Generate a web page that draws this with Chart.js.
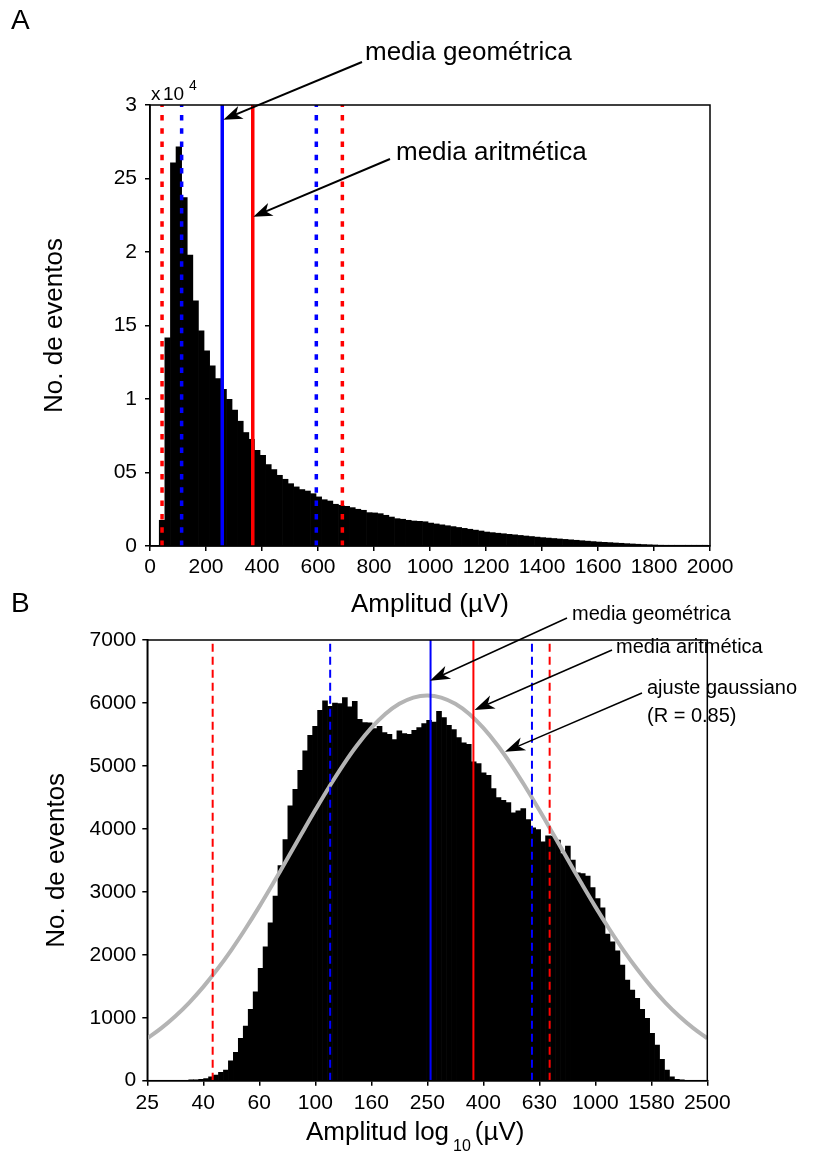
<!DOCTYPE html>
<html>
<head>
<meta charset="utf-8">
<script src="https://cdn.jsdelivr.net/npm/chart.js@4.4.1/dist/chart.umd.min.js"></script>
<style>
  html, body { margin: 0; padding: 0; background: #fff; }
  body { width: 815px; height: 1153px; position: relative; overflow: hidden; }
  canvas { position: absolute; left: 0; }
  #graficoA { top: 0; }
  #graficoB { top: 570px; }
</style>
</head>
<body>
<canvas id="graficoA" width="815" height="625"></canvas>
<canvas id="graficoB" width="815" height="583"></canvas>
<script>
// Panel A: histograma lineal, bins de 20 µV
const binInicioA = 33;
const binAnchoA = 20;
const conteosA = [
  1750, 14160, 26070, 27160, 23710, 19790, 16680, 14640, 13270, 12250,
  11390, 10660, 9980, 9240, 8490, 7720, 7260, 6510, 6170, 5540,
  5200, 4810, 4540, 4240, 4020, 3840, 3740, 3560, 3340, 3150,
  3060, 2840, 2770, 2700, 2610, 2500, 2430, 2270, 2250, 2200,
  2090, 1970, 1860, 1820, 1750, 1700, 1680, 1650, 1560, 1500,
  1440, 1380, 1320, 1260, 1200, 1140, 1080, 1020, 950, 910,
  870, 835, 795, 760, 720, 680, 645, 605, 570, 540,
  510, 480, 450, 420, 390, 360, 330, 300, 270, 250,
  230, 205, 185, 160, 140, 120, 100, 85, 70, 55,
  45, 35, 25, 20, 15, 10, 5, 3
];
const ticksXA = ['0', '200', '400', '600', '800', '1000', '1200', '1400', '1600', '1800', '2000'];
const ticksYA = ['0', '05', '1', '15', '2', '25', '3'];

// Panel B: histograma en log10(µV)
const binInicioB = 1.548;
const binAnchoB = 0.0177;
const conteosB = [
  8, 15, 22, 35, 60, 90, 132, 170, 317, 450,
  672, 868, 1132, 1413, 1783, 2127, 2508, 2931, 3418, 3831,
  4365, 4630, 4931, 5238, 5487, 5630, 5884, 6032, 5947, 6000,
  5990, 6085, 5937, 6027, 5741, 5688, 5683, 5593, 5630, 5529,
  5503, 5418, 5556, 5513, 5503, 5566, 5609, 5672, 5725, 5698,
  5868, 5767, 5645, 5577, 5450, 5365, 5344, 5064, 5037, 4889,
  4852, 4640, 4497, 4455, 4418, 4254, 4286, 4323, 4148, 4016,
  3989, 3794, 3889, 3884, 3820, 3609, 3725, 3503, 3302, 3291,
  3249, 3069, 2894, 2746, 2328, 2206, 2064, 1836, 1598, 1439,
  1307, 1132, 989, 751, 566, 339, 169, 63, 20, 8
];
const ticksXBpos = [1.4, 1.6, 1.8, 2.0, 2.2, 2.4, 2.6, 2.8, 3.0, 3.2, 3.4];
const ticksXB = ['25', '40', '60', '100', '160', '250', '400', '630', '1000', '1580', '2500'];
const ticksYB = ['0', '1000', '2000', '3000', '4000', '5000', '6000', '7000'];

const gaussLog = [
  1.40, 1.45, 1.50, 1.55, 1.60, 1.65, 1.70, 1.75, 1.80, 1.85,
  1.90, 1.95, 2.00, 2.05, 2.10, 2.15, 2.20, 2.25, 2.30, 2.35,
  2.40, 2.45, 2.50, 2.55, 2.60, 2.65, 2.70, 2.75, 2.80, 2.85,
  2.90, 2.95, 3.00, 3.05, 3.10, 3.15, 3.20, 3.25, 3.30, 3.35, 3.40
];
const gaussConteo = [
  673, 835, 1024, 1242, 1490, 1769, 2075, 2409, 2765, 3139,
  3524, 3914, 4299, 4670, 5018, 5332, 5603, 5824, 5986, 6086,
  6120, 6086, 5986, 5824, 5603, 5332, 5018, 4670, 4299, 3914,
  3524, 3139, 2765, 2409, 2075, 1769, 1490, 1242, 1024, 835, 673
];

// estadísticos (µV)
const mediaGeo = 258, geoInf = 113, geoSup = 594;
const mediaArit = 367, aritInf = 43, aritSup = 687;

const ROJO = '#ff0000';
const AZUL = '#0000ff';
const FUENTE = "'Liberation Sans', Arial, sans-serif";

Chart.defaults.font.family = FUENTE;
Chart.defaults.color = '#000';

function lineaVertical(x, yMax, color, ancho, guion) {
  return {
    type: 'line',
    data: [{ x: x, y: 0 }, { x: x, y: yMax }],
    borderColor: color,
    borderWidth: ancho,
    borderDash: guion,
    pointRadius: 0,
    fill: false,
    order: 1
  };
}

function texto(ctx, str, x, y, size) {
  ctx.save();
  ctx.font = size + 'px ' + FUENTE;
  ctx.fillStyle = '#000';
  ctx.textAlign = 'left';
  ctx.textBaseline = 'alphabetic';
  ctx.fillText(str, x, y);
  ctx.restore();
}

function flecha(ctx, x0, y0, x1, y1, largo, ancho, lw) {
  const dx = x1 - x0, dy = y1 - y0;
  const d = Math.hypot(dx, dy);
  const ux = dx / d, uy = dy / d;
  const nx = -uy, ny = ux;
  const bx = x1 - ux * largo, by = y1 - uy * largo;
  const mx = x1 - ux * largo * 0.72, my = y1 - uy * largo * 0.72;
  ctx.save();
  ctx.strokeStyle = '#000';
  ctx.fillStyle = '#000';
  ctx.lineWidth = lw;
  ctx.beginPath();
  ctx.moveTo(x0, y0);
  ctx.lineTo(mx, my);
  ctx.stroke();
  ctx.beginPath();
  ctx.moveTo(x1, y1);
  ctx.lineTo(bx + nx * ancho / 2, by + ny * ancho / 2);
  ctx.lineTo(mx, my);
  ctx.lineTo(bx - nx * ancho / 2, by - ny * ancho / 2);
  ctx.closePath();
  ctx.fill();
  ctx.restore();
}

// marco completo alrededor del área de trazado
const marco = {
  id: 'marco',
  afterDraw(chart) {
    const { ctx, chartArea: a } = chart;
    ctx.save();
    ctx.strokeStyle = '#000';
    ctx.lineWidth = 1.5;
    ctx.strokeRect(a.left, a.top, a.right - a.left, a.bottom - a.top);
    ctx.restore();
  }
};

// Anotaciones (texto + flecha hacia la línea)
const notasA = [
  { lineas: ['media geométrica'], tx: 365, ty: 60, cola: [362, 62], punta: [262, 29000] },
  { lineas: ['media aritmética'], tx: 396, ty: 160, cola: [390, 159], punta: [369, 22400] }
];
const notasB = [
  { lineas: ['media geométrica'], tx: 572, ty: 50, cola: [567, 48], punta: [2.4096, 6353] },
  { lineas: ['media aritmética'], tx: 616, ty: 83, cola: [612, 80], punta: [2.5686, 5888] },
  { lineas: ['ajuste gaussiano', '(R = 0.85)'], tx: 647, ty: 124, cola: [642, 123], punta: [2.6775, 5225] }
];

function pluginNotas(notas, tamTexto, interlinea, largo, ancho, lw, extra) {
  return {
    id: 'notas',
    afterDatasetsDraw(chart) {
      const ctx = chart.ctx;
      const sx = chart.scales.x, sy = chart.scales.y;
      notas.forEach(n => {
        const px = sx.getPixelForValue(n.punta[0]);
        const py = sy.getPixelForValue(n.punta[1]);
        flecha(ctx, n.cola[0], n.cola[1], px, py, largo, ancho, lw);
        n.lineas.forEach((l, i) => texto(ctx, l, n.tx, n.ty + i * interlinea, tamTexto));
      });
      extra(ctx, chart);
    }
  };
}

function escalaX(opts) {
  return Object.assign({
    type: 'linear',
    offset: false,
    grid: { offset: false, drawOnChartArea: false, drawTicks: true, tickLength: 5, color: '#000', lineWidth: 1.5 },
    border: { display: true, color: '#000', width: 1.5 }
  }, opts);
}

// ---------- Panel A ----------
const ctxA = document.getElementById('graficoA').getContext('2d');
new Chart(ctxA, {
  type: 'bar',
  data: {
    datasets: [
      {
        type: 'bar',
        data: conteosA.map((c, i) => ({ x: binInicioA + binAnchoA * (i + 0.5), y: c })),
        backgroundColor: '#000',
        borderWidth: 0,
        barPercentage: 1,
        categoryPercentage: 1,
        order: 3
      },
      lineaVertical(aritInf, 30000, ROJO, 3.5, [5.5, 7.8]),
      lineaVertical(geoInf, 30000, AZUL, 3.5, [5.5, 7.8]),
      lineaVertical(mediaGeo, 30000, AZUL, 3.5, []),
      lineaVertical(mediaArit, 30000, ROJO, 3.5, []),
      lineaVertical(geoSup, 30000, AZUL, 3.5, [5.5, 7.8]),
      lineaVertical(aritSup, 30000, ROJO, 3.5, [5.5, 7.8])
    ]
  },
  options: {
    responsive: false,
    animation: false,
    devicePixelRatio: 1,
    events: [],
    layout: { padding: { top: 105, right: 105, left: 0, bottom: 0 } },
    plugins: { legend: { display: false }, tooltip: { enabled: false } },
    scales: {
      x: escalaX({
        min: 0, max: 2000,
        ticks: { stepSize: 200, autoSkip: false, maxRotation: 0, padding: 4, font: { size: 21 },
                 callback: (v, i) => ticksXA[i] },
        title: { display: true, text: 'Amplitud (µV)', font: { size: 26 }, padding: { top: 0, bottom: 5 } },
        afterFit: s => { s.height = 79; }
      }),
      y: {
        min: 0, max: 30000,
        grid: { drawOnChartArea: false, drawTicks: true, tickLength: 5, color: '#000', lineWidth: 1.5 },
        border: { display: true, color: '#000', width: 1.5 },
        ticks: { stepSize: 5000, padding: 8, font: { size: 21 }, callback: (v, i) => ticksYA[i] },
        title: { display: true, text: 'No. de eventos', font: { size: 26 }, padding: { top: 39, bottom: 0 } },
        afterFit: s => { s.width = 150; }
      }
    }
  },
  plugins: [marco, pluginNotas(notasA, 26, 28, 19, 14, 2, (ctx) => {
    texto(ctx, 'A', 11, 29, 28);
    texto(ctx, 'x', 151, 100, 19);
    texto(ctx, '10', 163, 100, 19);
    texto(ctx, '4', 189, 90, 14);
  })]
});

// ---------- Panel B ----------
const ctxB = document.getElementById('graficoB').getContext('2d');
new Chart(ctxB, {
  type: 'bar',
  data: {
    datasets: [
      {
        type: 'bar',
        data: conteosB.map((c, i) => ({ x: binInicioB + binAnchoB * (i + 0.5), y: c })),
        backgroundColor: '#000',
        borderWidth: 0,
        barPercentage: 1,
        categoryPercentage: 1,
        order: 3
      },
      {
        type: 'line',
        data: gaussLog.map((x, i) => ({ x: x, y: gaussConteo[i] })),
        borderColor: '#b4b4b4',
        borderWidth: 4,
        pointRadius: 0,
        tension: 0.4,
        fill: false,
        order: 2
      },
      lineaVertical(Math.log10(aritInf), 7000, ROJO, 2, [8, 5]),
      lineaVertical(Math.log10(geoInf), 7000, AZUL, 2, [8, 5]),
      lineaVertical(Math.log10(mediaGeo), 7000, AZUL, 2, []),
      lineaVertical(Math.log10(mediaArit), 7000, ROJO, 2, []),
      lineaVertical(Math.log10(geoSup), 7000, AZUL, 2, [8, 5]),
      lineaVertical(Math.log10(aritSup), 7000, ROJO, 2, [8, 5])
    ]
  },
  options: {
    responsive: false,
    animation: false,
    devicePixelRatio: 1,
    events: [],
    layout: { padding: { top: 70, right: 107.7, left: 0, bottom: 0 } },
    plugins: { legend: { display: false }, tooltip: { enabled: false } },
    scales: {
      x: escalaX({
        min: 1.4, max: 3.4,
        afterBuildTicks: s => { s.ticks = ticksXBpos.map(v => ({ value: v })); },
        ticks: { autoSkip: false, maxRotation: 0, padding: 5, font: { size: 21 },
                 callback: (v, i) => ticksXB[i] },
        title: { display: false },
        afterFit: s => { s.height = 72.3; }
      }),
      y: {
        min: 0, max: 7000,
        grid: { drawOnChartArea: false, drawTicks: true, tickLength: 5, color: '#000', lineWidth: 1.5 },
        border: { display: true, color: '#000', width: 1.5 },
        ticks: { stepSize: 1000, padding: 6, font: { size: 21 }, callback: (v, i) => ticksYB[i] },
        title: { display: true, text: 'No. de eventos', font: { size: 26 }, padding: { top: 41, bottom: 0 } },
        afterFit: s => { s.width = 147.3; }
      }
    }
  },
  plugins: [marco, pluginNotas(notasB, 20, 28, 20, 14, 1.5, (ctx) => {
    texto(ctx, 'B', 11, 42, 28);
    // título del eje x con subíndice
    ctx.save();
    ctx.font = '26px ' + FUENTE;
    const w1 = ctx.measureText('Amplitud log').width;
    ctx.font = '16px ' + FUENTE;
    const w2 = ctx.measureText('10').width;
    ctx.restore();
    const x0 = 306;
    texto(ctx, 'Amplitud log', x0, 570, 26);
    texto(ctx, '10', x0 + w1 + 4, 581, 16);
    texto(ctx, '(µV)', x0 + w1 + 4 + w2 + 4, 570, 26);
  })]
});
</script>
</body>
</html>
